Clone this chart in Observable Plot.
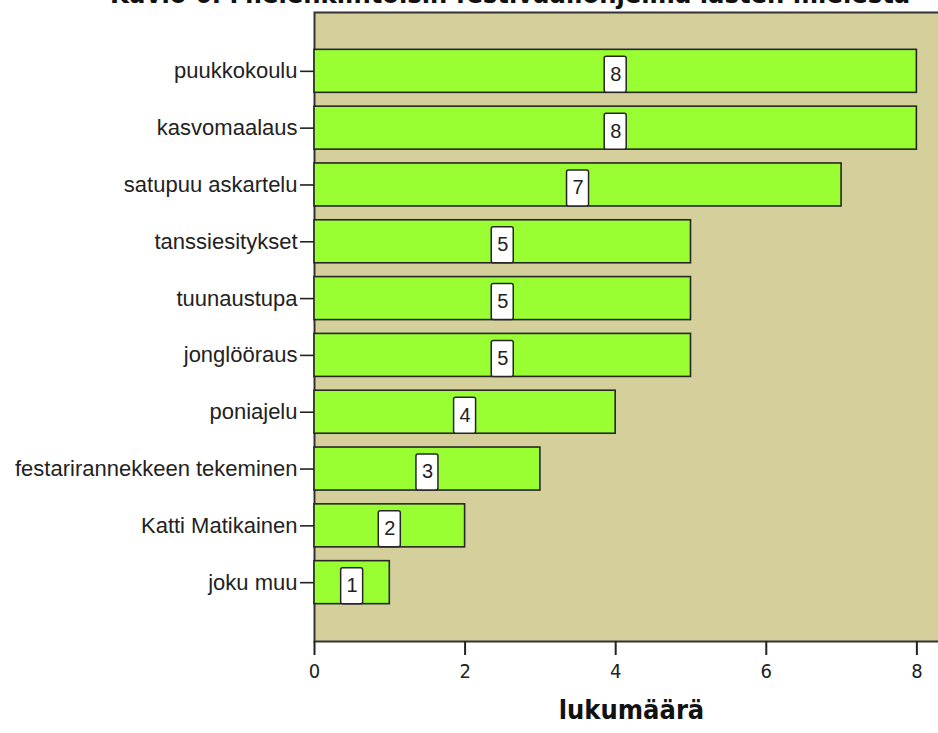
<!DOCTYPE html>
<html>
<head>
<meta charset="utf-8">
<script src="https://cdn.jsdelivr.net/npm/d3@7"></script>
<script src="https://cdn.jsdelivr.net/npm/@observablehq/plot@0.6"></script>
<style>
  html, body { margin: 0; padding: 0; background: #fff; overflow: hidden; }
  #wrap { position: relative; width: 938px; height: 733px; overflow: hidden; }
  #title {
    position: absolute; top: -20px; left: 110px; white-space: nowrap;
    font-family: "DejaVu Sans Condensed", "DejaVu Sans", sans-serif; font-stretch: condensed;
    font-weight: bold; font-size: 27px; line-height: 27px; color: #111;
  }
  #chart { position: absolute; top: 0; left: 0; }
</style>
</head>
<body>
<div id="wrap">
  <div id="chart"></div>
  <div id="title"></div>
</div>
<script>
// Most interesting festival programme according to the children (counts)
const titleText = "Kuvio 6. Mielenkiintoisin festivaaliohjelma lasten mielestä";
const categories = [
  "puukkokoulu",
  "kasvomaalaus",
  "satupuu askartelu",
  "tanssiesitykset",
  "tuunaustupa",
  "jonglööraus",
  "poniajelu",
  "festarirannekkeen tekeminen",
  "Katti Matikainen",
  "joku muu"
];
const counts = [8, 8, 7, 5, 5, 5, 4, 3, 2, 1];
const xTicks = [0, 2, 4, 6, 8];
const xLabel = "lukumäärä";

const data = categories.map((category, i) => ({category, count: counts[i]}));

const labelFont = "'Liberation Sans', Arial, sans-serif";
const condFont = "'DejaVu Sans Condensed', 'DejaVu Sans', sans-serif";

document.getElementById("title").textContent = titleText;

const chart = Plot.plot({
  width: 938,
  height: 733,
  marginLeft: 314,
  marginRight: -10,
  marginTop: 12,
  marginBottom: 92,
  style: {background: "transparent", overflow: "hidden"},
  x: {domain: [0, 8.42]},
  y: {domain: categories, paddingInner: 0.243, paddingOuter: 0.657, round: false},
  marks: [
    Plot.frame({fill: "#d4cf9b", stroke: "#333", strokeWidth: 2}),
    Plot.barX(data, {
      x: "count", y: "category",
      fill: "#99ff33", stroke: "#262626", strokeWidth: 1.6
    }),
    // white value boxes centred on each bar
    Plot.barX(data, {
      x1: d => d.count / 2, x2: d => d.count / 2, y: "category",
      insetLeft: -11, insetRight: -11, insetTop: 7,
      fill: "#fff", stroke: "#262626", strokeWidth: 1.5, rx: 2
    }),
    Plot.text(data, {
      x: d => d.count / 2, y: "category", text: d => String(d.count),
      dy: 3, fontSize: 20, fontFamily: labelFont, fill: "#222"
    }),
    Plot.axisY({
      tickSize: 14, tickPadding: 3, fontSize: 22, fontFamily: labelFont,
      label: null, stroke: "#222", strokeWidth: 1.6, color: "#222"
    }),
    Plot.axisX({
      ticks: xTicks, tickFormat: d => String(d), tickSize: 14, tickPadding: 8,
      fontSize: 20, fontFamily: condFont, label: null,
      stroke: "#222", strokeWidth: 2, color: "#222"
    }),
    Plot.text([xLabel], {
      frameAnchor: "bottom", dy: 77, text: d => d,
      fontSize: 27, fontWeight: "bold", fontFamily: condFont, fill: "#111"
    })
  ]
});
document.getElementById("chart").appendChild(chart);
</script>
</body>
</html>
